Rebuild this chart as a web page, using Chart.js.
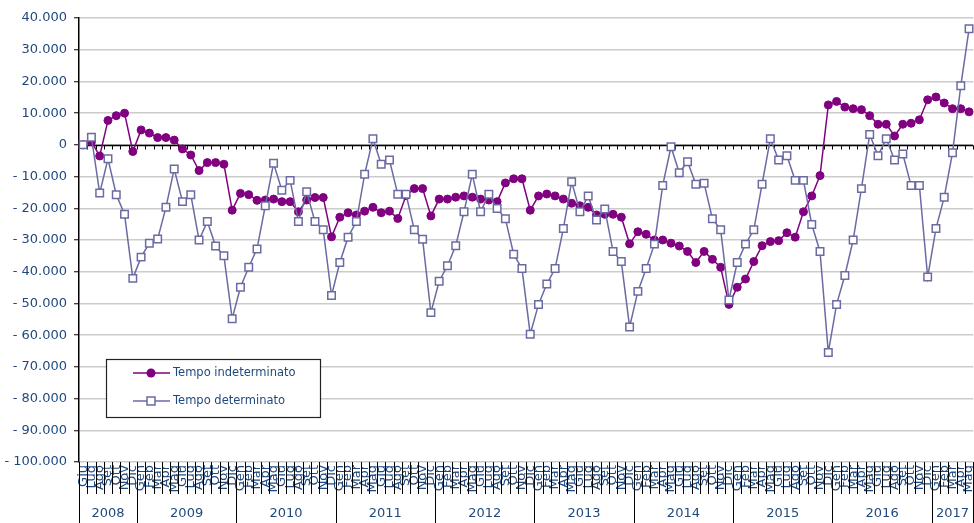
<!DOCTYPE html>
<html><head><meta charset="utf-8">
<script src="https://cdn.jsdelivr.net/npm/chart.js@4.4.1/dist/chart.umd.min.js"></script>
<style>
html,body{margin:0;padding:0;background:#fff;overflow:hidden;width:974px;height:523px}
#wrap{position:relative;width:980px;height:523px}
</style>
</head><body>
<div id="wrap"><canvas id="c" width="980" height="523"></canvas></div>
<script>
// ---- data ----
const monthNames = ['Gen','Feb','Mar','Apr','Mag','Giu','Lug','Ago','Set','Ott','Nov','Dic'];
const years = ['2008','2009','2010','2011','2012','2013','2014','2015','2016','2017'];
const firstMonthIndex = 5; // Giu 2008
const lastMonthIndex = 4;  // Mag 2017

const tempoIndeterminato = [
  0, 1000, -3500, 7700, 9200, 10000, -2100, 4700, 3700, 2300, 2300, 1500,
  -1300, -3200, -8100, -5600, -5600, -6100, -20600, -15300, -15700, -17500, -17400, -17100,
  -17900, -17900, -21100, -17400, -16600, -16600, -29000, -22800, -21400, -22100, -20900, -19700,
  -21400, -20900, -23200, -16000, -13800, -13800, -22400, -17100, -17100, -16500, -16100, -16500,
  -17100, -17400, -17900, -12000, -10700, -10700, -20600, -16100, -15500, -16100, -17100, -18400,
  -19200, -19700, -22100, -21900, -21900, -22800, -31200, -27400, -28200, -30000, -30000, -31000,
  -31900, -33600, -37100, -33600, -36100, -38600, -50300, -44900, -42300, -36800, -31800, -30500,
  -30200, -27700, -29100, -21100, -16100, -9700, 12600, 13700, 11900, 11400, 11100, 9200,
  6500, 6500, 2800, 6500, 6800, 7900, 14200, 15100, 13200, 11400, 11400, 10400
];
const tempoDeterminato = [
  0, 2400, -15200, -4400, -15700, -21900, -42100, -35400, -31000, -29700, -19700, -7600,
  -17900, -15700, -30000, -24200, -31900, -35000, -54800, -44900, -38600, -32800, -19200, -5800,
  -14300, -11200, -24200, -14800, -24200, -26800, -47500, -37100, -29100, -24200, -9300, 1900,
  -6100, -4800, -15600, -15600, -26800, -29800, -52900, -43000, -38100, -31800, -21100, -9300,
  -21100, -15600, -20100, -23300, -34500, -39000, -59700, -50300, -43900, -39000, -26400, -11600,
  -21100, -16100, -23700, -20200, -33600, -36800, -57400, -46200, -39000, -31300, -12800, -600,
  -8800, -5300, -12400, -12100, -23300, -26800, -48900, -37100, -31300, -26800, -12400, 1900,
  -4800, -3400, -11200, -11200, -25100, -33600, -65500, -50300, -41200, -30000, -13800, 3300,
  -3400, 1900, -4800, -2900, -12800, -12800, -41700, -26400, -16500, -2500, 18600, 36600
];
const seriesNames = ['Tempo indeterminato', 'Tempo determinato'];
const yMin = -100000, yMax = 40000, yStep = 10000;

// ---- categories ----
const categories = [], categoryYears = [];
years.forEach((yr, yi) => {
  const s = yi === 0 ? firstMonthIndex : 0;
  const e = yi === years.length - 1 ? lastMonthIndex : 11;
  for (let m = s; m <= e; m++) { categories.push(monthNames[m]); categoryYears.push(yr); }
});

const TEXT = '#1F497D';
const PURPLE = '#800080';
const SLATE = '#6A6AA4';
const FONT = 'DejaVu Sans';

function fmt(v) {
  if (v === 0) return '0';
  const s = Math.abs(v).toString().replace(/\B(?=(\d{3})+(?!\d))/g, '.');
  return (v < 0 ? '- ' : '') + s;
}

const deco = {
  id: 'deco',
  beforeDatasetsDraw(chart) {
    const {ctx, chartArea: a, scales: {y}} = chart;
    const n = categories.length, w = (a.right - a.left) / n;
    const y0 = Math.round(y.getPixelForValue(0)) + 0.5;
    ctx.save();
    ctx.strokeStyle = '#000';
    ctx.lineWidth = 1.5;
    ctx.beginPath(); ctx.moveTo(a.left, y0); ctx.lineTo(a.right, y0); ctx.stroke();
    ctx.lineWidth = 1;
    ctx.beginPath();
    for (let i = 1; i <= n; i++) {
      const px = Math.round(a.left + i * w) + 0.5;
      ctx.moveTo(px, y0); ctx.lineTo(px, y0 + 4);
    }
    ctx.stroke();
    ctx.restore();
  },
  afterDraw(chart) {
    const {ctx, chartArea: a} = chart;
    const n = categories.length, w = (a.right - a.left) / n;
    const H = chart.height;
    ctx.save();
    // month ticks
    ctx.strokeStyle = '#000';
    ctx.lineWidth = 1;
    ctx.beginPath();
    for (let i = 0; i <= n; i++) {
      const px = Math.round(a.left + i * w) + 0.5;
      const newYear = i === 0 || i === n || categoryYears[i] !== categoryYears[i - 1];
      ctx.moveTo(px, a.bottom);
      ctx.lineTo(px, newYear ? H : a.bottom + 32);
    }
    ctx.stroke();
    // year labels
    ctx.fillStyle = TEXT;
    ctx.font = '13px "' + FONT + '"';
    ctx.textAlign = 'center';
    ctx.textBaseline = 'middle';
    let start = 0;
    for (let i = 1; i <= n; i++) {
      if (i === n || categoryYears[i] !== categoryYears[i - 1]) {
        const cx = a.left + (start + i) / 2 * w;
        ctx.fillText(categoryYears[start], cx, 514);
        start = i;
      }
    }
    // legend
    const lx = 106.5, ly = 359.5, lw = 214, lh = 58;
    ctx.fillStyle = '#fff';
    ctx.fillRect(lx, ly, lw, lh);
    ctx.strokeStyle = '#222';
    ctx.lineWidth = 1.2;
    ctx.strokeRect(lx, ly, lw, lh);
    const rows = [
      {y: 373, color: PURPLE, name: seriesNames[0], style: 'circle'},
      {y: 401, color: SLATE, name: seriesNames[1], style: 'rect'}
    ];
    rows.forEach(r => {
      ctx.strokeStyle = r.color;
      ctx.lineWidth = 1.5;
      ctx.beginPath(); ctx.moveTo(133, r.y); ctx.lineTo(170, r.y); ctx.stroke();
      if (r.style === 'circle') {
        ctx.fillStyle = r.color;
        ctx.beginPath(); ctx.arc(151, r.y, 4.5, 0, Math.PI * 2); ctx.fill();
      } else {
        ctx.fillStyle = '#fff';
        ctx.fillRect(147, r.y - 4, 8, 8);
        ctx.strokeRect(147, r.y - 4, 8, 8);
      }
      ctx.fillStyle = TEXT;
      ctx.font = '11.5px "' + FONT + '"';
      ctx.textAlign = 'left';
      ctx.textBaseline = 'middle';
      ctx.fillText(r.name, 173, r.y);
    });
    ctx.restore();
  }
};

new Chart(document.getElementById('c'), {
  type: 'line',
  data: {
    labels: categories,
    datasets: [
      {
        label: seriesNames[0], data: tempoIndeterminato, order: 1,
        borderColor: PURPLE, backgroundColor: PURPLE, borderWidth: 1.5,
        pointStyle: 'circle', pointRadius: 4, pointBorderWidth: 1,
        pointBackgroundColor: PURPLE, pointBorderColor: PURPLE, tension: 0
      },
      {
        label: seriesNames[1], data: tempoDeterminato, order: 0,
        borderColor: SLATE, backgroundColor: '#fff', borderWidth: 1.5,
        pointStyle: 'rect', pointRadius: 5.3, pointBorderWidth: 1.5,
        pointBackgroundColor: '#fff', pointBorderColor: SLATE, tension: 0
      }
    ]
  },
  options: {
    responsive: false,
    animation: false,
    devicePixelRatio: 1,
    layout: {padding: {top: 18, right: 2, left: 0, bottom: 0}},
    plugins: {legend: {display: false}, tooltip: {enabled: false}},
    scales: {
      x: {
        offset: true,
        afterFit(s) { s.height = 61; s.paddingLeft = 0; s.paddingRight = 0; },
        border: {display: false},
        grid: {display: false, drawTicks: false},
        ticks: {autoSkip: false, maxRotation: 90, minRotation: 90, padding: 3,
          color: TEXT, font: {family: FONT, size: 13}}
      },
      y: {
        min: yMin, max: yMax,
        afterFit(s) { s.width = 79; },
        border: {display: true, color: '#000', width: 1.5},
        grid: {color: '#cccccc', lineWidth: 1.5, tickLength: 5, tickColor: '#000', tickWidth: 1},
        ticks: {stepSize: yStep, padding: 7, color: TEXT, font: {family: FONT, size: 13}, callback: fmt}
      }
    }
  },
  plugins: [deco]
});
</script>
</body></html>
